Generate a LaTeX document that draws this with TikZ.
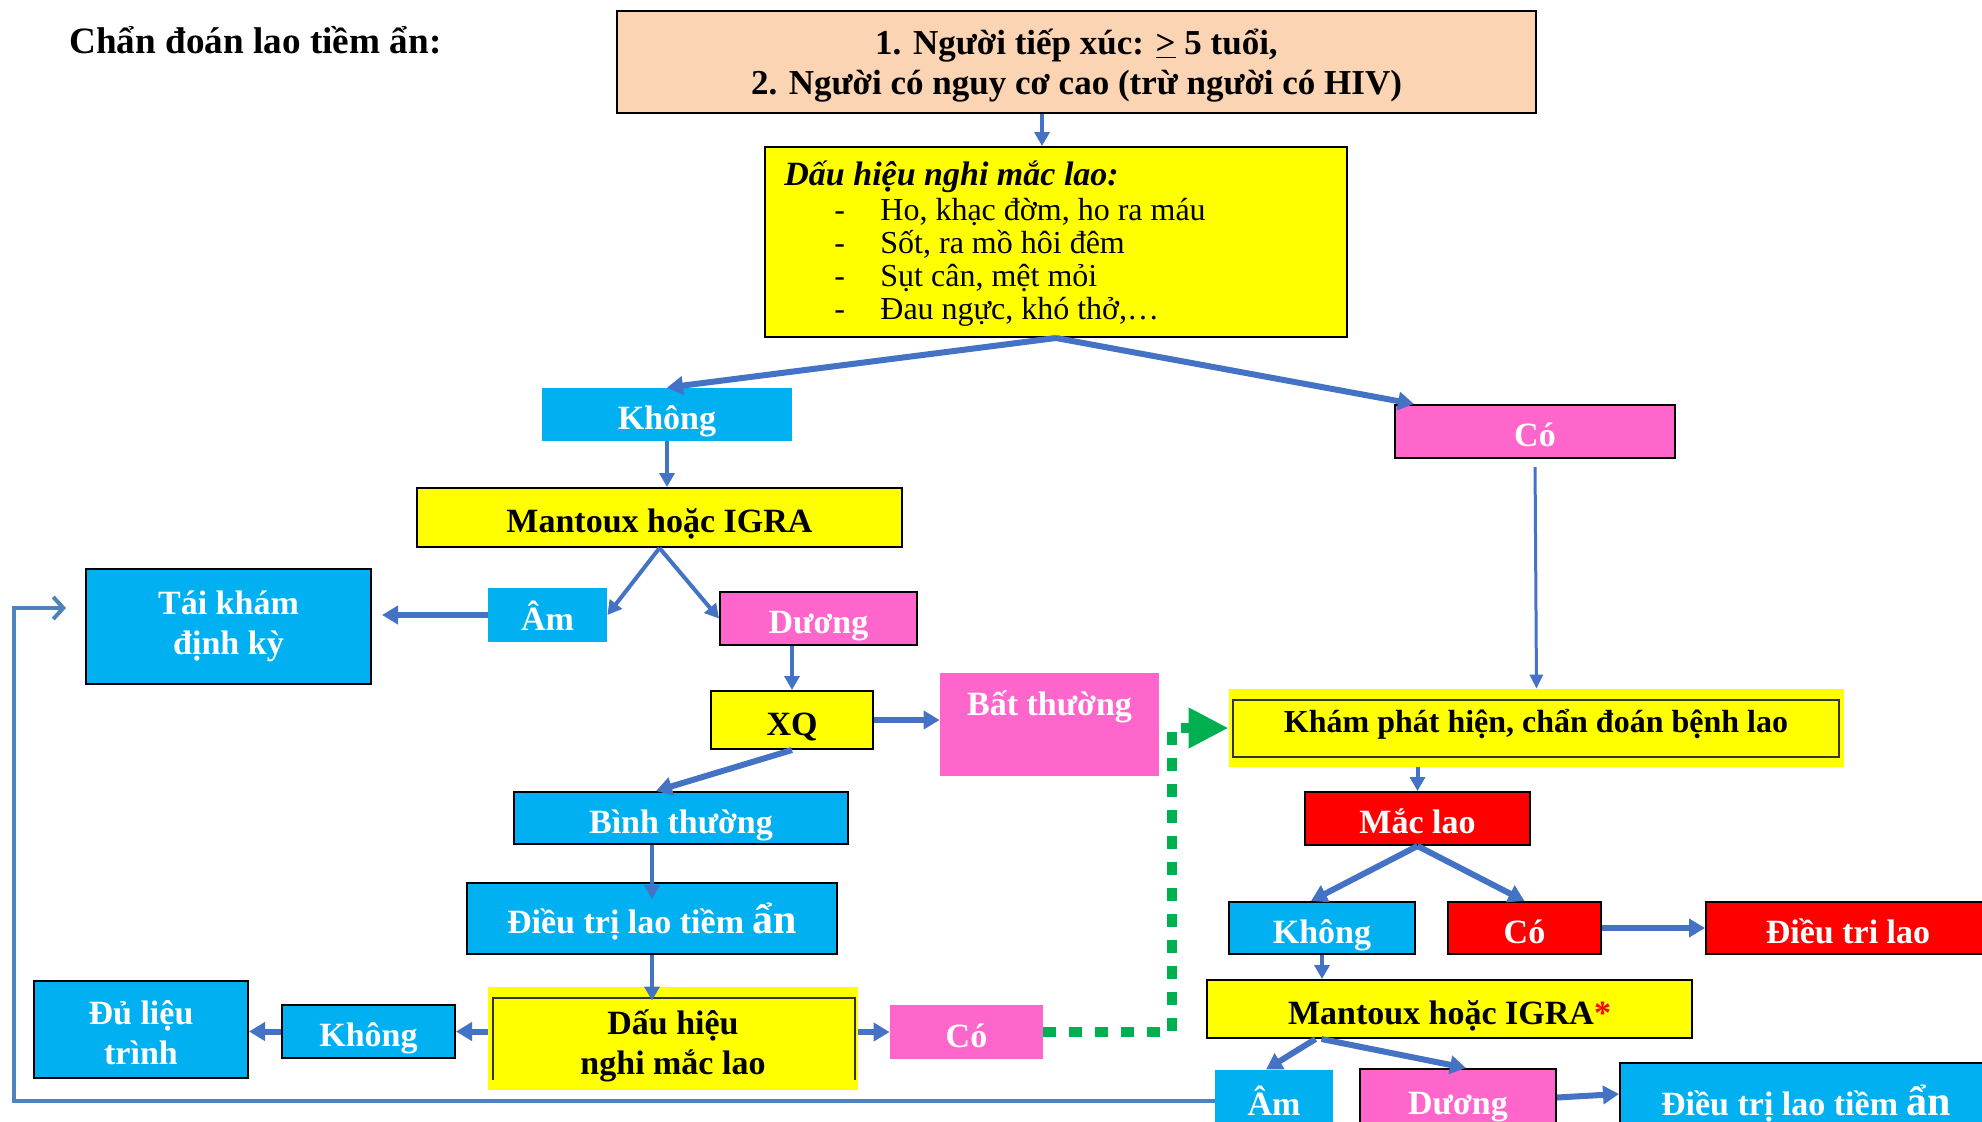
\documentclass[tikz,border=0pt]{standalone}
\usepackage{fontspec}
\setmainfont{Liberation Serif}
\usetikzlibrary{arrows.meta}
\definecolor{peach}{HTML}{FBD4B4}
\definecolor{ylw}{HTML}{FFFF00}
\definecolor{cyn}{HTML}{00B0F0}
\definecolor{pnk}{HTML}{FF66CC}
\definecolor{rd}{HTML}{FF0000}
\definecolor{arrblue}{HTML}{4472C4}
\definecolor{loopblue}{HTML}{4F81BD}
\definecolor{grn}{HTML}{00B050}
\begin{document}
\begin{tikzpicture}[x=0.5pt,y=-0.5pt,
  box/.style={rectangle, inner sep=0pt, font=\bfseries\fontsize{17}{20}\selectfont, align=center},
  one/.style={text height=19pt, text depth=4pt},
  sz/.style 2 args={minimum width=#1*0.5pt, minimum height=#2*0.5pt},
  bd/.style={draw=black, line width=1pt},
  wt/.style={text=white},
  arr/.style={draw=arrblue, line width=2pt, -{Triangle[length=7pt,width=7.5pt]}},
  arrthick/.style={draw=arrblue, line width=3pt, -{Triangle[length=8pt,width=9pt]}},
  arrthin/.style={draw=arrblue, line width=1.5pt, -{Triangle[length=7pt,width=6.5pt]}},
  greenpath/.style={draw=grn, line width=5pt, dash pattern=on 6.5pt off 6.5pt, -{Triangle[length=20pt,width=19pt]}},
  looppath/.style={draw=loopblue, line width=2pt, -{Straight Barb[length=5pt,width=11pt]}},
  inner/.style={draw=black!80, line width=0.8pt},
  item/.style={anchor=base west, inner sep=0pt, font=\fontsize{16}{16}\selectfont}
]
\clip (0,0) rectangle (1982,1121);
\fill[white] (0,0) rectangle (1982,1121);

% title
\node[anchor=base west, inner sep=0pt, font=\bfseries\fontsize{18.6}{18.6}\selectfont] (title) at (69,53) {Chẩn đoán lao tiềm ẩn:};

% top box
\node[box,bd,fill=peach,sz={919}{102}] (top) at (1076.5,62) {};
\node[box,font=\bfseries\fontsize{17.5}{20}\selectfont] (topt) at ([yshift=-1.75pt]top.center)
  {1. Người tiếp xúc: \underline{>} 5 tuổi,\\2. Người có nguy cơ cao (trừ người có HIV)};

% symptoms box
\node[box,bd,fill=ylw,sz={582}{190}] (sym) at (1056,242) {};
\node[anchor=base west, inner sep=0pt, font=\bfseries\itshape\fontsize{17}{17}\selectfont] (symt) at (784,185) {Dấu hiệu nghi mắc lao:};
\node[item] (d1) at (834,220) {-};
\node[item] (d2) at (834,253) {-};
\node[item] (d3) at (834,286) {-};
\node[item] (d4) at (834,319) {-};
\node[item] (i1) at (880,220) {Ho, khạc đờm, ho ra máu};
\node[item] (i2) at (880,253) {Sốt, ra mồ hôi đêm};
\node[item] (i3) at (880,286) {Sụt cân, mệt mỏi};
\node[item] (i4) at (880,319) {Đau ngực, khó thở,…};

% left branch
\node[box,one,wt,fill=cyn,sz={250}{53}] (khong1) at (667,414.5) {Không};
\node[box,one,bd,wt,fill=pnk,sz={280}{53}] (co1) at (1535,431.5) {Có};
\node[box,one,bd,fill=ylw,sz={485}{59}] (mant1) at (659.5,517.5) {Mantoux hoặc IGRA};
\node[box,one,wt,fill=cyn,sz={119}{54}] (am1) at (547.5,615) {Âm};
\node[box,one,bd,wt,fill=pnk,sz={197}{53}] (duong1) at (818.5,618.5) {Dương};
\node[box,bd,wt,fill=cyn,sz={285}{115}] (taikham) at (228.5,626.5) {Tái khám\\định kỳ};
\node[box,one,bd,fill=ylw,sz={162}{58}] (xq) at (792,720) {XQ};
\node[box,fill=pnk,sz={219}{103}] (bat) at (1049.5,724.5) {};
\node[anchor=base, inner sep=0pt, wt, font=\bfseries\fontsize{17}{17}\selectfont] (batt) at (1049.5,715) {Bất thường};
\node[box,one,bd,wt,fill=cyn,sz={334}{52}] (binh) at (681,818) {Bình thường};
\node[box,one,bd,wt,fill=cyn,sz={370}{71}] (dt1) at (652,918.5) {Điều trị lao tiềm {\fontsize{21}{21}\selectfont ẩn}};
\node[box,fill=ylw,sz={370}{103}] (dh) at (673,1038.5) {};
\draw[inner] (493,1080) -- (493,998) -- (855,998) -- (855,1080);
\node[box] (dht) at ([yshift=-3.75pt]dh.center) {Dấu hiệu\\nghi mắc lao};
\node[box,one,bd,wt,fill=cyn,sz={173}{53}] (khong3) at (368.5,1031.5) {Không};
\node[box,bd,fill=cyn,sz={214}{97}] (dulieu) at (141,1029.5) {};
\node[box,wt] (dulieut) at ([yshift=-1.5pt]dulieu.center) {Đủ liệu\\trình};
\node[box,one,wt,fill=pnk,sz={153}{54}] (co3) at (966.5,1032) {Có};

% right branch
\node[box,fill=ylw,sz={615}{78}] (kham) at (1536.5,728) {};
\node[box,inner,sz={606}{57},text height=7.5pt,text depth=4pt,font=\bfseries\fontsize{16}{16}\selectfont] (khamt) at (1536,728.5) {Khám phát hiện, chẩn đoán bệnh lao};
\node[box,one,bd,wt,fill=rd,sz={225}{53}] (maclao) at (1417.5,818.5) {Mắc lao};
\node[box,one,bd,wt,fill=cyn,sz={186}{52}] (khong2) at (1322,928) {Không};
\node[box,one,bd,wt,fill=rd,sz={153}{52}] (co2) at (1524.5,928) {Có};
\node[box,one,bd,wt,fill=rd,sz={284}{52}] (dtlao) at (1848,928) {Điều tri lao};
\node[box,one,bd,fill=ylw,sz={485}{58}] (mant2) at (1449.5,1009) {Mantoux hoặc IGRA\textcolor{rd}{*}};
\node[box,one,wt,fill=cyn,sz={118}{60}] (am2) at (1274,1100) {Âm};
\node[box,one,bd,wt,fill=pnk,sz={196}{61}] (duong2) at (1458,1099.5) {Dương};
\node[box,one,bd,wt,fill=cyn,sz={372}{74}] (dt2) at (1806,1100) {Điều trị lao tiềm {\fontsize{21}{21}\selectfont ẩn}};

% connectors
\draw[arr] ([xshift=-7pt]sym.north |- top.south) -- ([xshift=-7pt]sym.north);
\draw[arrthick] (sym.south) -- (khong1.north);
\draw[arrthick] (sym.south) -- ([xshift=10pt]co1.north west);
\draw[arr] (khong1.south) -- (khong1.south |- mant1.north);
\draw[arr] (mant1.south) -- (am1.east);
\draw[arr] (mant1.south) -- (duong1.west);
\draw[arrthick, shorten >=5pt] (am1.west) -- (am1.west -| taikham.east);
\draw[arr] (xq.north |- duong1.south) -- (xq.north);
\draw[arrthick] (xq.east) -- (bat.west |- xq.east);
\draw[arrthick] (xq.south) -- ([xshift=-12.5pt]binh.north);
\draw[arr] (dt1.north |- binh.south) -- ([yshift=-8.5pt]dt1.north);
\draw[arr] (dt1.south) -- ([yshift=-7pt]dt1.south |- dh.north);
\draw[arrthick] (dh.west |- khong3.east) -- (khong3.east);
\draw[arrthick] (khong3.west) -- (dulieu.east |- khong3.west);
\draw[arrthick] (dh.east |- co3.west) -- (co3.west);

\coordinate (gturn) at (1172,728);
\draw[greenpath] (co3.east) -| (gturn) -- (kham.west);

\draw[arrthin, shorten <=4pt] (co1.south) -- (kham.north);
\draw[arr] (maclao.north |- kham.south) -- (maclao.north);
\draw[arrthick] (maclao.south) -- ([xshift=-5.5pt]khong2.north);
\draw[arrthick] (maclao.south) -- (co2.north);
\draw[arrthick] (co2.east) -- (dtlao.west);
\draw[arr] (khong2.south) -- (khong2.south |- mant2.north);
\draw[arrthick] ([xshift=-67pt]mant2.south) -- ([xshift=-4pt]am2.north);
\draw[arrthick] ([xshift=-64pt]mant2.south) -- ([xshift=4pt]duong2.north);
\draw[arrthick] ([yshift=1pt]duong2.east) -- ([yshift=3pt]dt2.west);

\coordinate (lb) at (14,1101);
\coordinate (lt) at (14,608);
\coordinate (le) at (66,608);
\draw[looppath] (am2.west |- lb) -- (lb) -- (lt) -- (le);
\end{tikzpicture}
\end{document}
